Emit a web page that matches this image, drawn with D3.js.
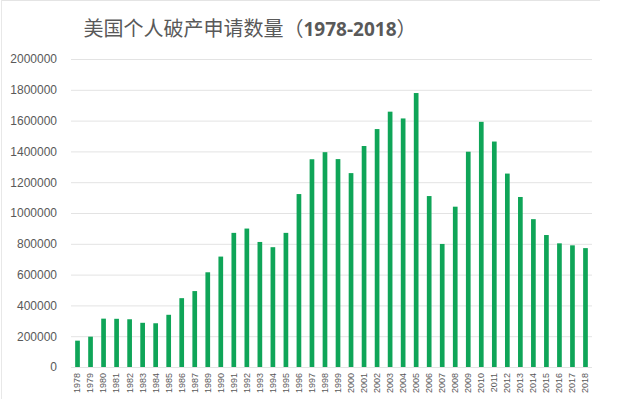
<!DOCTYPE html>
<html>
<head>
<meta charset="utf-8">
<script src="https://cdn.jsdelivr.net/npm/d3@7"></script>
<style>
  body { margin: 0; background: #fff; }
  svg { display: block; font-family: "Open Sans", "Noto Sans CJK SC", sans-serif; }
</style>
</head>
<body>
<div class="container"></div>
<script>
// Years as labelled on the chart (1988 is not there)
const years = ["1978", "1979", "1980", "1981", "1982", "1983", "1984", "1985", "1986", "1987",
    "1989", "1990", "1991", "1992", "1993", "1994", "1995", "1996", "1997", "1998",
    "1999", "2000", "2001", "2002", "2003", "2004", "2005", "2006", "2007", "2008",
    "2009", "2010", "2011", "2012", "2013", "2014", "2015", "2016", "2017", "2018"];

// Filings per year
const filings = [171000, 197000, 314000, 313000, 310000, 287000, 284000, 339000, 447000, 493000,
    615000, 717000, 871000, 899000, 812000, 778000, 871000, 1123000, 1349000, 1395000,
    1350000, 1259000, 1435000, 1545000, 1658000, 1614000, 1779000, 1110000, 799000, 1041000,
    1398000, 1592000, 1464000, 1256000, 1104000, 960000, 857000, 803000, 790000, 772000];

const yTicks = [0, 200000, 400000, 600000, 800000, 1000000, 1200000, 1400000, 1600000, 1800000, 2000000];

const width = 627,
    height = 399,
    margin = { top: 59, right: 35, bottom: 32, left: 71 };

const data = years.map((y, i) => ({ year: y, value: filings[i] }));

const svg = d3.select(".container")
    .append("svg")
    .attr("width", width)
    .attr("height", height);

// faint chart frame (top and left edges)
svg.append("line")
    .attr("x1", 1).attr("x2", 600).attr("y1", 0.5).attr("y2", 0.5)
    .attr("stroke", "#e4e4e4");
svg.append("line")
    .attr("x1", 1.5).attr("x2", 1.5).attr("y1", 0).attr("y2", height)
    .attr("stroke", "#e8e8e8");

// title
svg.append("text")
    .attr("x", 250)
    .attr("y", 36)
    .attr("text-anchor", "middle")
    .attr("fill", "#595959")
    .style("font-size", "20px")
    .text("美国个人破产申请数量（")
    .append("tspan")
    .style("font-weight", "bold")
    .style("font-size", "19px")
    .text("1978-2018")
    .append("tspan")
    .style("font-weight", "normal")
    .style("font-size", "20px")
    .text("）");

const x = d3.scaleBand()
    .domain(years)
    .range([margin.left, width - margin.right])
    .paddingInner(0.64)
    .paddingOuter(0.32);

const y = d3.scaleLinear()
    .domain([0, 2000000])
    .range([height - margin.bottom, margin.top]);

// gridlines + y labels
const yAxis = svg.append("g")
    .attr("transform", `translate(${margin.left},0)`)
    .call(d3.axisLeft(y)
        .tickValues(yTicks)
        .tickSize(-(width - margin.left - margin.right))
        .tickPadding(14)
        .tickFormat(d3.format("d")));
yAxis.select(".domain").remove();
yAxis.selectAll(".tick line").attr("stroke", "#e3e3e3");
yAxis.selectAll(".tick text")
    .attr("fill", "#595959")
    .style("font-size", "12px");

// bars
svg.append("g")
    .selectAll("rect")
    .data(data)
    .enter()
    .append("rect")
    .attr("x", d => x(d.year))
    .attr("y", d => y(d.value))
    .attr("width", x.bandwidth())
    .attr("height", d => y(0) - y(d.value))
    .attr("fill", "#0fa558");

// x labels, rotated
const xAxis = svg.append("g")
    .attr("transform", `translate(0,${height - margin.bottom})`)
    .call(d3.axisBottom(x).tickSize(0).tickPadding(0));
xAxis.select(".domain").remove();
xAxis.selectAll(".tick text")
    .attr("transform", "rotate(-90)")
    .attr("text-anchor", "end")
    .attr("x", -6)
    .attr("y", 0)
    .attr("dy", "0.32em")
    .attr("fill", "#595959")
    .style("font-size", "9px");
</script>
</body>
</html>
